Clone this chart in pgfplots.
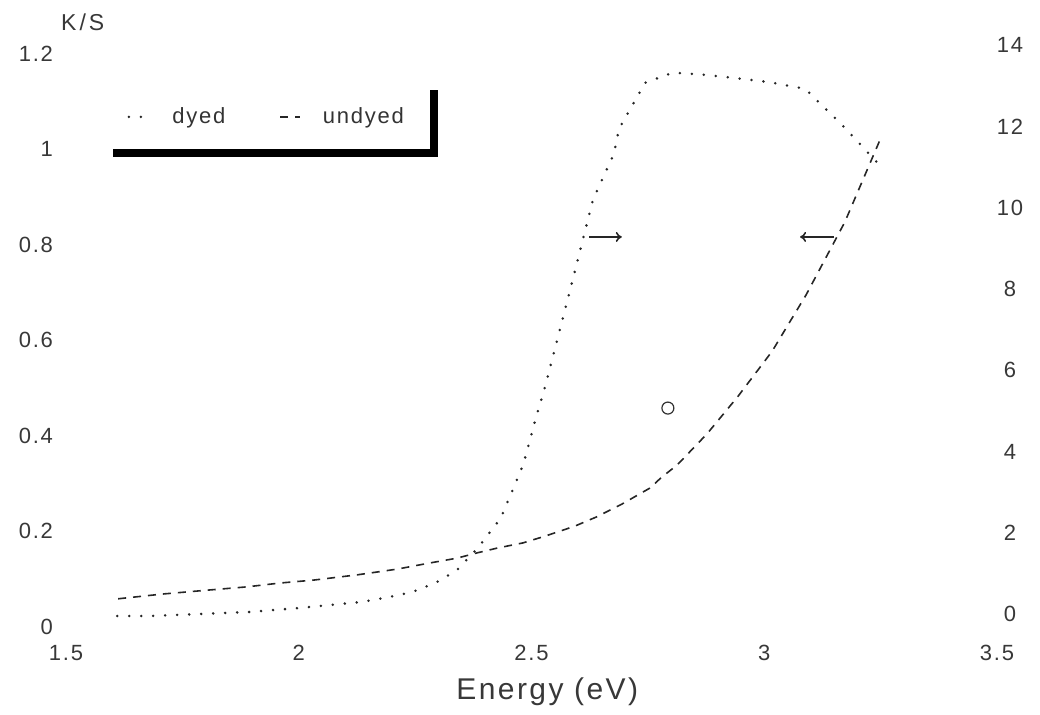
\documentclass[border=0pt]{standalone}
\usepackage{fontspec}
\setmainfont{Liberation Sans}[LetterSpace=8]
\usepackage{pgfplots}
\usepackage{pgfplotstable}
\pgfplotsset{compat=1.18}
\usetikzlibrary{arrows.meta}

\pgfplotstableread{
E KS
1.612 0.059
1.708 0.069
1.803 0.077
1.889 0.084
1.960 0.092
2.031 0.098
2.125 0.109
2.211 0.121
2.282 0.134
2.340 0.144
2.383 0.155
2.426 0.165
2.482 0.176
2.529 0.190
2.593 0.211
2.639 0.230
2.694 0.257
2.755 0.291
2.778 0.312
2.813 0.339
2.877 0.404
2.944 0.483
3.017 0.577
3.090 0.695
3.173 0.847
3.253 1.029
}\undyed

\pgfplotstableread{
E V
1.610 -0.05
1.680 -0.05
1.788 0.00
1.895 0.05
2.003 0.15
2.067 0.22
2.138 0.30
2.218 0.47
2.256 0.59
2.297 0.79
2.340 1.08
2.385 1.63
2.434 2.36
2.482 3.67
2.510 4.85
2.529 5.59
2.583 7.98
2.632 10.20
2.677 11.33
2.688 11.95
2.744 13.08
2.804 13.33
2.868 13.28
2.935 13.20
3.008 13.10
3.088 12.93
3.169 12.02
3.253 10.99
}\dyed

\pgfplotsset{
  undyedstyle/.style={black!85, line width=0.8pt, dash pattern=on 4pt off 3.5pt},
  dyedstyle/.style={black!85, line width=1.4pt, line cap=round, dash pattern=on 0pt off 6pt},
  common/.style={
    scale only axis, width=465.5pt, height=292pt,
    xmin=1.5, xmax=3.5,
    axis line style={draw=none}, major tick length=0pt,
    /pgf/number format/assume math mode=true,
    tick label style={font=\fontsize{11}{13}\selectfont, text=black!78},
  },
}

\begin{document}
\begin{tikzpicture}
\begin{axis}[common,
  ymin=0, ymax=1.2218,
  axis x line*=bottom, axis y line*=left,
  xtick={1.5,2,2.5,3,3.5},
  ytick={0,0.2,0.4,0.6,0.8,1,1.2},
  xticklabel style={anchor=center, yshift=-13pt},
  yticklabel style={xshift=-3pt},
  xlabel={Energy (eV)},
  xlabel style={at={(axis description cs:0.517,0)}, anchor=center, yshift=-32.5pt, font=\fontsize{15}{18}\selectfont, text=black!78},
  ylabel={K\kern1.5pt/\kern1.5pt S},
  ylabel style={at={(axis description cs:0.018,1.036)}, rotate=-90, anchor=center, font=\fontsize{11.5}{13}\selectfont, text=black!78},
  clip=false,
]
\addplot[undyedstyle] table[x=E, y=KS] {\undyed};
\addplot[black!80, line width=0.6pt, mark=o, mark size=3pt, only marks] coordinates {(2.793,0.458)};
\draw[black!85, line width=0.8pt, -{To[length=3pt,width=5pt]}] (axis cs:2.624,0.816) -- (axis cs:2.694,0.816);
\draw[black!85, line width=0.8pt, -{To[length=3pt,width=5pt]}] (axis cs:3.150,0.816) -- (axis cs:3.077,0.816);
\end{axis}

\begin{axis}[common,
  ymin=-0.32, ymax=14.06,
  axis x line=none, axis y line*=right,
  ytick={0,2,4,6,8,10,12,14},
  yticklabel style={anchor=center, xshift=6.5pt},
  legend columns=2,
  legend style={at={(axis description cs:0.042,0.928)}, anchor=north west,
    name=leg, draw=none, fill=white,
    inner xsep=11pt, inner ysep=9pt,
    font=\fontsize{11}{13}\selectfont, text=black!80,
    /tikz/every odd column/.append style={column sep=9pt},
    /tikz/every even column/.append style={column sep=25pt}},
  legend image code/.code={\draw[#1] (0pt,0pt) -- (10pt,0pt);},
]
\addplot[dyedstyle] table[x=E, y=V] {\dyed};
\addlegendentry{dyed}
\addlegendimage{undyedstyle}
\addlegendentry{undyed}
\end{axis}
\fill[black] ([shift={(4pt,-4pt)}]leg.south west) rectangle ([shift={(4pt,0pt)}]leg.south east);
\fill[black] ([shift={(0pt,-2.5pt)}]leg.north east) rectangle ([shift={(4pt,-4pt)}]leg.south east);
\pgfresetboundingbox
\useasboundingbox (-33pt,-44pt) rectangle (487pt,313.5pt);
\end{tikzpicture}
\end{document}
